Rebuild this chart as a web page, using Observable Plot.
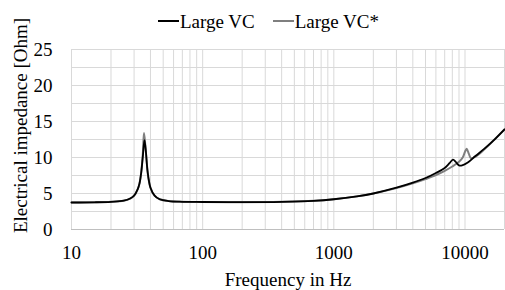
<!DOCTYPE html>
<html>
<head>
<meta charset="utf-8">
<script src="https://cdn.jsdelivr.net/npm/d3@7"></script>
<script src="https://cdn.jsdelivr.net/npm/@observablehq/plot@0.6"></script>
<style>
  html, body { margin: 0; padding: 0; background: #fff; }
  #wrap { position: relative; width: 505px; height: 290px; font-family: "Liberation Serif", "DejaVu Serif", serif; }
  #legend { position: absolute; left: 0; top: 0; width: 505px; height: 30px; display: flex; justify-content: center; align-items: center; font-size: 19px; color: #000; padding-left: 32px; padding-top: 14px; box-sizing: border-box; z-index: 2; }
  .item { display: flex; align-items: center; margin: 0 9px; }
  .sw { width: 21px; height: 2px; margin-right: 1px; margin-top: -2px; }
  svg text { font-family: "Liberation Serif", "DejaVu Serif", serif; }
</style>
</head>
<body>
<div id="wrap">
  <div id="legend"></div>
  <div id="chart"></div>
</div>
<script>
// Series: Large VC (black)
const freqA = [10, 15, 20, 25, 28, 30, 32, 33, 34, 35, 36, 37, 38, 40, 43, 47, 55, 70, 100, 200, 400, 700, 1000, 1500, 2000, 3000, 4000, 5000, 6000, 7000, 7600, 8100, 8500, 9000, 9500, 10500, 12000, 14000, 17000, 20000];
const impA  = [3.75, 3.78, 3.85, 4.0, 4.3, 4.7, 5.6, 6.4, 7.9, 10.2, 12.4, 10.6, 8.1, 5.8, 4.7, 4.2, 3.95, 3.85, 3.82, 3.8, 3.85, 3.98, 4.2, 4.6, 5.0, 5.8, 6.5, 7.15, 7.85, 8.55, 9.2, 9.7, 9.4, 8.9, 8.9, 9.3, 10.2, 11.2, 12.6, 13.9];
// Series: Large VC* (gray)
const freqB = [10, 15, 20, 25, 28, 30, 32, 33, 34, 35, 35.7, 36.5, 37.5, 38.5, 40, 43, 47, 55, 70, 100, 200, 400, 700, 1000, 1500, 2000, 3000, 4000, 5000, 6000, 7000, 8000, 9000, 9600, 10000, 10300, 10700, 11100, 12000, 14000, 17000, 20000];
const impB  = [3.75, 3.78, 3.85, 4.0, 4.3, 4.7, 5.6, 6.4, 7.9, 10.6, 13.4, 11.8, 9.2, 7.2, 5.8, 4.7, 4.2, 3.95, 3.85, 3.82, 3.8, 3.85, 3.98, 4.2, 4.6, 5.0, 5.75, 6.4, 7.0, 7.55, 8.15, 8.75, 9.4, 10.0, 10.8, 11.2, 10.5, 9.9, 10.1, 11.1, 12.6, 13.9];

const seriesNames = ["Large VC", "Large VC*"];
const seriesColors = ["#000000", "#7f7f7f"];

const xTicks = [10, 100, 1000, 10000];
const yTicks = [0, 5, 10, 15, 20, 25];
const xGrid = [10,20,30,40,50,60,70,80,90,100,200,300,400,500,600,700,800,900,1000,2000,3000,4000,5000,6000,7000,8000,9000,10000,20000];
const yGrid = [2.5, 5, 7.5, 10, 12.5, 15, 17.5, 20, 22.5, 25];
const yLabel = "Electrical impedance [Ohm]";
const xLabel = "Frequency in Hz";

const dataA = freqA.map((f, i) => ({f, z: impA[i]}));
const dataB = freqB.map((f, i) => ({f, z: impB[i]}));

// Legend
const legend = document.getElementById("legend");
seriesNames.forEach((n, i) => {
  const it = document.createElement("div");
  it.className = "item";
  it.innerHTML = `<div class="sw" style="background:${seriesColors[i]}"></div><span>${n}</span>`;
  legend.appendChild(it);
});

const chart = Plot.plot({
  width: 505,
  height: 290,
  marginLeft: 71,
  marginRight: 1,
  marginTop: 49,
  marginBottom: 61,
  style: {fontFamily: "'Liberation Serif', 'DejaVu Serif', serif", fontSize: "19px", color: "#000", background: "transparent"},
  x: {type: "log", domain: [10, 20000]},
  y: {domain: [0, 25]},
  marks: [
    Plot.ruleX(xGrid, {stroke: "#d9d9d9", strokeWidth: 1}),
    Plot.ruleY(yGrid, {stroke: "#d9d9d9", strokeWidth: 1}),
    Plot.ruleY([0], {stroke: "#bfbfbf", strokeWidth: 1}),
    Plot.axisX({ticks: xTicks, tickFormat: d => String(d), tickSize: 0, tickPadding: 16, fontSize: 19,
      label: xLabel, labelAnchor: "center", labelOffset: 56, labelArrow: "none"}),
    Plot.axisY({ticks: yTicks, tickSize: 0, tickPadding: 19, fontSize: 19, label: null}),
    Plot.text([yLabel], {text: d => d, frameAnchor: "left", dx: -51, dy: -14, rotate: -90,
      textAnchor: "middle", lineAnchor: "middle", fontSize: 19, fill: "#000"}),
    Plot.line(dataB, {x: "f", y: "z", stroke: seriesColors[1], strokeWidth: 2, curve: "catmull-rom"}),
    Plot.line(dataA, {x: "f", y: "z", stroke: seriesColors[0], strokeWidth: 1.8, curve: "catmull-rom"})
  ]
});
document.getElementById("chart").appendChild(chart);
</script>
</body>
</html>
